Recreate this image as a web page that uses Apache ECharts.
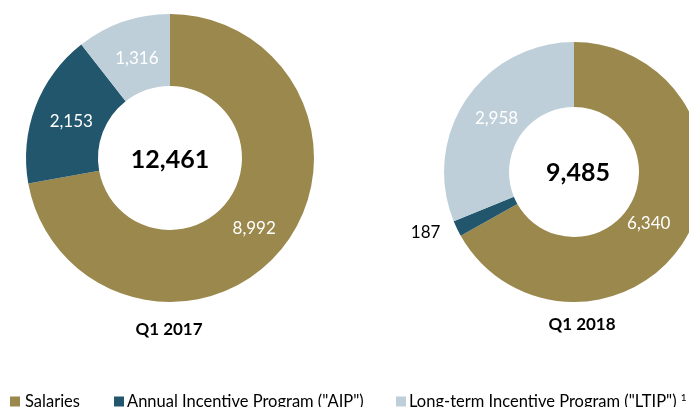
<!DOCTYPE html>
<html>
<head>
<meta charset="utf-8">
<script src="https://cdn.jsdelivr.net/npm/echarts@6/dist/echarts.min.js"></script>
<style>html,body{margin:0;padding:0;background:#fff;}#c{width:689px;height:407px;}</style>
</head>
<body>
<div id="c"></div>
<script>
const categories = ['Salaries', 'Annual Incentive Program ("AIP")', 'Long-term Incentive Program ("LTIP")'];
const periods = ['Q1 2017', 'Q1 2018'];
const valuesQ12017 = [8992, 2153, 1316];
const valuesQ12018 = [6340, 187, 2958];

const colors = ['#9B884D', '#21566C', '#BECFD9'];
const FONT = 'Lato';
const fmt = v => v.toLocaleString('en-US');
const sum = a => a.reduce((s, v) => s + v, 0);

// small label nudges (style only) to mimic the original label placement
const labelNudge = [
  [[-1, -1], [5, 3], [3, 5]],
  [[-12, 1], [0, 2], [6, 3]]
];

function buildData(vals, outsideIdx) {
  return vals.map((v, i) => {
    const d = { name: categories[i], value: v };
    if (outsideIdx.indexOf(i) >= 0) {
      d.label = { position: 'outside', color: '#000', distanceToLabelLine: 0 };
      d.labelLine = { show: false, length: 4, length2: 13 };
    }
    return d;
  });
}

const baseSeries = {
  type: 'pie',
  startAngle: 90,
  clockwise: true,
  avoidLabelOverlap: false,
  silent: true,
  label: {
    show: true, position: 'inside', color: '#fff',
    fontFamily: FONT, fontSize: 17,
    formatter: p => fmt(p.value)
  },
  labelLine: { show: false },
  itemStyle: { borderWidth: 0 },
  labelLayout: p => {
    const n = labelNudge[p.seriesIndex][p.dataIndex];
    return { dx: n[0], dy: n[1] };
  }
};

const titleStyle = (size) => ({ fontFamily: FONT, fontWeight: 'bold', fontSize: size, color: '#000' });

const chart = echarts.init(document.getElementById('c'), null, { renderer: 'canvas' });
chart.setOption({
  animation: false,
  color: colors,
  title: [
    { text: fmt(sum(valuesQ12017)), left: 170, top: 147, padding: 0, textAlign: 'center', textStyle: titleStyle(25) },
    { text: fmt(sum(valuesQ12018)), left: 578, top: 160, padding: 0, textAlign: 'center', textStyle: titleStyle(25) },
    { text: periods[0], left: 169, top: 321, padding: 0, textAlign: 'center', textStyle: titleStyle(17) },
    { text: periods[1], left: 582, top: 316, padding: 0, textAlign: 'center', textStyle: titleStyle(17) }
  ],
  legend: [0, 1, 2].map((i) => ({
    data: [categories[i]],
    left: [10, 114, 396][i],
    top: 393,
    itemWidth: 10, itemHeight: 10, itemGap: 0,
    icon: 'rect',
    selectedMode: false,
    padding: 0,
    textStyle: { fontFamily: FONT, fontSize: 16.5, color: '#000', padding: [0, 0, 0, i === 0 ? 0 : -2],
      rich: { sup: { fontFamily: FONT, fontSize: 10, verticalAlign: 'top', padding: [0, 0, 6, 0], color: '#000' } } },
    formatter: name => i === 2 ? name + ' {sup|1}' : name
  })),
  series: [
    Object.assign({}, baseSeries, {
      name: periods[0], center: [170, 158], radius: [72, 144],
      data: buildData(valuesQ12017, [])
    }),
    Object.assign({}, baseSeries, {
      name: periods[1], center: [574, 172], radius: [65, 130],
      data: buildData(valuesQ12018, [1])
    })
  ]
});
</script>
</body>
</html>
